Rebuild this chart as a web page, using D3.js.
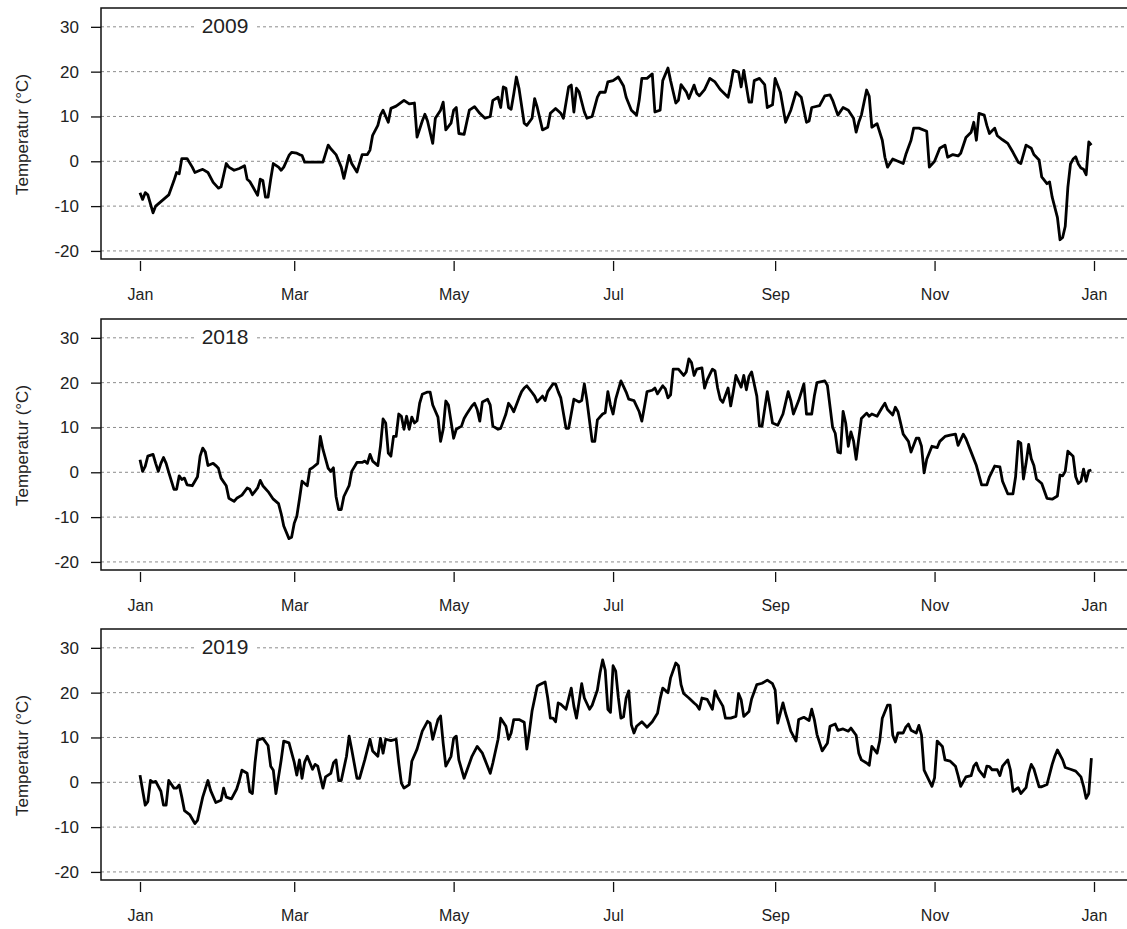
<!DOCTYPE html>
<html>
<head>
<meta charset="utf-8">
<script src="https://cdn.jsdelivr.net/npm/d3@7"></script>
<style>
  body { margin: 0; background: #fff; }
  svg { display: block; }
</style>
</head>
<body>
<svg id="chart" width="1127" height="929"></svg>
<script>
// Daily air temperature, one panel per year: [day of year (0 = 1 Jan), °C]
const years = [2009, 2018, 2019];

const series2009 = [[0,-7],[1,-8.5],[2,-7],[3,-7.5],[5,-11.5],[6,-10],[8,-9],[10,-8],[11,-7.5],[13,-4.3],[14,-2.5],[15,-2.8],[16,0.6],[18,0.6],[20,-1.3],[21,-2.5],[23,-2],[24,-1.8],[26,-2.5],[28,-4.7],[30,-6],[31,-5.7],[33,-0.5],[34,-1.3],[36,-2],[38,-1.6],[40,-1],[41,-4],[42,-4.5],[43,-5.5],[45,-7.6],[46,-4],[47,-4.3],[48,-8],[49,-8],[50,-4],[51,-0.5],[53,-1.3],[54,-2],[55,-1.3],[57,1.3],[58,2],[60,1.8],[61,1.5],[62,1.3],[63,-0.2],[65,-0.2],[70,-0.2],[72,3.6],[73,2.8],[75,1.5],[77,-1.3],[78,-3.8],[79,-1.3],[80,1.3],[81,-0.5],[83,-2.4],[85,1.5],[87,1.5],[88,2.5],[89,5.8],[91,8],[92,10.3],[93,11.4],[95,8.7],[96,11.8],[98,12.3],[101,13.6],[103,12.8],[105,13],[106,5.4],[108,9],[109,10.5],[110,9],[112,4],[113,9.6],[115,11.4],[116,13.2],[117,7],[119,8.5],[120,11.4],[121,12],[122,6.2],[124,6],[126,11.4],[128,12.2],[130,10.7],[132,9.6],[134,10],[135,13.6],[137,14.3],[138,12],[139,16.6],[140,16.3],[141,12],[142,11.6],[143,15],[144,18.8],[145,16.3],[147,8.5],[148,8],[150,9.6],[151,14],[152,12],[154,7],[156,7.6],[157,10.7],[159,11.8],[161,10.7],[162,9.6],[164,16.6],[165,17],[166,11],[167,16.3],[168,15.5],[170,11],[171,9.6],[173,10],[175,14.3],[176,15.4],[178,15.4],[179,17.7],[181,18],[183,18.8],[185,16.8],[186,14.3],[188,11.4],[190,10.3],[191,13.6],[192,18.5],[194,18.5],[196,19.5],[197,11],[199,11.4],[200,18],[202,20.8],[203,18],[205,13],[206,13.6],[207,17.1],[209,15.5],[210,14],[212,17],[213,15.2],[214,14.6],[216,16],[218,18.5],[220,17.7],[222,16],[225,14.3],[226,17],[227,20.3],[229,19.9],[230,16.6],[231,20.3],[233,13.2],[234,13.2],[235,18],[237,18.5],[239,17.1],[240,12],[242,12.6],[243,18.5],[245,15.4],[247,8.7],[249,11.4],[251,15.4],[253,14.3],[255,8.7],[256,9],[257,12],[260,12.4],[262,14.6],[264,14.8],[265,13.6],[267,10.3],[269,12],[271,11.4],[273,9.6],[274,6.5],[275,8.7],[276,10.3],[278,15.9],[279,14.5],[280,7.6],[282,8.4],[284,4.7],[285,0.9],[286,-1.3],[288,0.5],[290,0],[292,-0.5],[293,1.5],[295,4.7],[296,7.4],[298,7.4],[301,6.7],[302,-1.3],[304,0],[306,2.9],[308,3.6],[309,0.9],[311,1.5],[313,1.2],[314,1.8],[316,5.3],[318,6.5],[319,8.7],[320,4.7],[321,10.7],[323,10.3],[324,8],[325,6.2],[327,7.4],[328,5.7],[330,4.8],[332,4],[334,2],[336,-0.2],[337,-0.5],[339,3.6],[341,2.9],[342,1.5],[344,0.3],[345,-3.5],[347,-5],[348,-4.6],[349,-8],[351,-12.5],[352,-17.5],[353,-17],[354,-14.5],[355,-5.8],[356,-0.6],[357,0.5],[358,1],[359,-0.6],[360,-1.5],[361,-1.8],[362,-3],[363,4.3],[364,3.6]];

const series2018 = [[0,2.8],[1,0.2],[2,1.3],[3,3.6],[5,4],[6,2],[7,0.2],[8,2],[9,3.3],[10,2],[11,0],[13,-3.8],[14,-3.8],[15,-0.8],[16,-1.6],[17,-1.3],[18,-2.8],[20,-3],[22,-1],[23,3.6],[24,5.4],[25,4.5],[26,1.5],[28,2],[29,1.5],[30,0.9],[31,-1.3],[33,-3],[34,-5.8],[36,-6.5],[37,-5.8],[39,-5.1],[41,-3.5],[42,-3.8],[43,-5],[45,-3.5],[46,-1.8],[47,-3],[49,-4.3],[51,-6],[53,-7],[54,-9.2],[55,-12],[57,-14.8],[58,-14.5],[59,-11.4],[60,-9.8],[61,-6],[62,-2],[64,-3],[65,0.7],[66,1],[68,2],[69,8],[70,5.1],[72,0.9],[73,0.2],[74,1],[75,-5.4],[76,-8.3],[77,-8.3],[78,-5.4],[80,-3],[81,0.2],[83,2.2],[85,2.2],[86,2.5],[87,2],[88,4],[89,2.5],[91,1.5],[92,5.8],[93,11.9],[94,11],[95,4.3],[96,3.6],[97,8],[98,8],[99,13],[100,12.5],[101,9.6],[102,12.5],[103,9.6],[104,12.3],[105,11],[106,11.5],[107,15.4],[108,17.4],[110,17.9],[111,17.9],[112,15],[114,12.3],[115,6.9],[116,9.6],[117,15.9],[118,15],[120,7.6],[121,9.6],[123,10.3],[124,12],[125,13],[127,14.8],[128,15.4],[129,14],[130,11.4],[131,15.7],[133,16.3],[134,15],[135,10.3],[137,9.6],[138,9.8],[140,13],[141,15.4],[142,14.6],[143,13.5],[145,16.6],[146,18],[147,18.8],[148,19.3],[150,17.8],[151,17],[152,15.7],[154,17],[155,16],[156,18],[158,19.7],[159,19.7],[160,18],[161,16.6],[163,9.8],[164,9.8],[166,16.3],[168,15.7],[169,16],[170,19.7],[171,16],[173,6.9],[174,6.9],[175,11.7],[177,13],[178,13.3],[179,18],[180,15],[181,13],[182,16.3],[184,20.4],[186,17.9],[187,16.3],[189,16],[191,13.5],[192,11.4],[193,14.6],[194,18],[196,18.3],[197,18.8],[198,17.5],[200,19.3],[201,18.6],[202,16.6],[203,17.3],[204,23],[206,23],[208,21.6],[209,22.4],[210,25.3],[211,24.5],[212,21.6],[213,23],[215,23.3],[216,18.8],[217,20.6],[219,23],[220,22.6],[221,18.8],[222,16.3],[223,15.6],[225,18.8],[226,14.8],[227,18],[228,21.6],[230,19],[231,21.6],[232,18.4],[233,21.4],[234,22.4],[236,17],[237,10.3],[238,10.3],[240,18],[241,14.6],[242,11],[244,10.5],[246,13],[248,18],[249,16],[250,13],[252,16],[254,19.7],[255,13],[257,13],[258,17],[259,20],[262,20.4],[263,19.4],[265,10],[266,8.7],[267,4.5],[268,4.3],[269,13.6],[270,11],[271,5.8],[272,9],[273,7],[274,2.9],[275,7.5],[276,12],[278,13.2],[279,12.5],[280,13],[282,12.5],[284,14.5],[285,15.4],[286,14],[288,12.8],[289,14.5],[290,13.5],[292,8.5],[294,6.9],[295,4.5],[297,7.6],[298,7.6],[299,5.8],[300,-0.1],[301,2.9],[303,5.8],[305,5.5],[306,6.9],[308,8],[310,8.3],[312,8.5],[313,6],[315,8.5],[316,7.5],[318,4.5],[320,1.5],[322,-2.8],[324,-2.8],[325,-1],[327,1.4],[329,1.2],[330,-2],[332,-4.8],[334,-4.8],[335,-1],[336,6.9],[337,6.5],[338,-1.5],[339,2],[340,6.2],[341,3],[342,1.5],[343,-1.5],[345,-2.5],[347,-5.8],[349,-6],[351,-5.3],[352,-0.6],[353,-0.8],[354,0.2],[355,4.7],[357,3.6],[358,-1],[359,-2.5],[360,-2],[361,0.7],[362,-2],[363,0.3],[364,0.5]];

const series2019 = [[0,1.6],[1,-1.8],[2,-5.1],[3,-4.3],[4,0.4],[5,0],[6,0.2],[8,-2],[9,-5.1],[10,-5.1],[11,0.4],[13,-1.3],[14,-1.3],[15,-0.6],[16,-3.3],[17,-6.3],[19,-7.2],[21,-9.2],[22,-8.5],[24,-3.3],[26,0.4],[27,-1.8],[29,-4.5],[31,-4],[32,-1.3],[33,-3.3],[35,-3.7],[37,-1.5],[38,0.4],[39,2.7],[41,2],[42,-2.1],[43,-2.5],[44,4.3],[45,9.4],[47,9.8],[49,8.2],[50,3.6],[51,2.7],[52,-2.5],[54,4.9],[55,9.2],[57,8.8],[59,4.5],[60,1.6],[61,5],[62,0.9],[63,4.5],[64,5.8],[66,2.9],[67,4],[68,3.6],[70,-1.3],[71,1.2],[73,2],[74,4.3],[75,5],[76,0.4],[77,0.4],[79,5.8],[80,10.3],[81,7.3],[83,0.9],[84,0.9],[86,5],[88,9.6],[89,7],[91,5.8],[92,9.8],[93,6.5],[94,9.6],[96,9.3],[98,9.6],[99,4.3],[100,-0.2],[101,-1.3],[103,-0.5],[104,4.7],[106,7.4],[108,11.4],[110,13.6],[111,13.2],[112,9.6],[114,14],[115,14.8],[116,8.7],[117,3.6],[119,5.8],[120,9.8],[121,10.3],[122,5],[124,0.9],[125,2.5],[127,5.8],[129,8],[131,6.5],[132,5],[134,2],[135,4.3],[137,9.6],[138,14.3],[140,12.5],[141,9.6],[142,11],[143,14],[145,14],[147,13.4],[148,7.4],[149,11.4],[150,15.9],[152,21.5],[153,21.8],[155,22.4],[156,18.8],[157,14.3],[158,14.3],[159,13.5],[160,17.7],[161,17.4],[163,16.3],[165,21],[166,17],[167,14.3],[168,18],[169,22],[170,18.8],[172,16.3],[173,17.2],[175,20.6],[176,24.4],[177,27.3],[178,25],[179,16.3],[180,15.6],[181,26],[182,24.8],[183,19],[184,14.3],[185,14.6],[186,18.8],[187,20.4],[188,12.8],[189,11],[190,12.5],[192,13.5],[194,12.3],[196,13.5],[198,15.4],[199,18.6],[200,21],[202,20],[203,23.3],[205,26.6],[206,26],[207,21.8],[208,19.8],[210,18.8],[212,17.7],[213,17.2],[214,16.3],[215,18.8],[217,18.5],[219,16.3],[220,20.4],[221,19],[223,17],[224,14.3],[226,14.3],[228,14.7],[229,19.8],[230,18.4],[231,14.7],[233,15.8],[234,18.6],[236,21.8],[238,22.1],[240,22.8],[242,22],[243,20.6],[244,13.2],[246,17.7],[247,15.4],[248,13.5],[249,11.4],[251,9.2],[252,14],[254,14.5],[256,13.8],[257,16.3],[258,14],[259,10.7],[261,7],[263,8.7],[264,12.5],[266,13],[267,11.6],[269,11.9],[271,11.4],[272,12.1],[274,10.5],[275,6.5],[276,5],[278,4.3],[279,3.8],[280,8],[282,6.5],[283,9.2],[284,14.3],[286,17.2],[287,17.2],[288,10.5],[289,9],[290,11],[292,11],[293,12.3],[294,13],[295,11.6],[297,11],[298,12.7],[299,10.5],[300,2.7],[301,1.5],[303,-0.9],[304,1],[305,9.2],[307,8],[308,5],[310,4.7],[312,3.6],[313,1.5],[314,-0.9],[316,1.2],[318,1.5],[319,3.6],[320,4.3],[321,2.7],[323,1.2],[324,3.6],[325,3.5],[326,2.8],[328,2.8],[329,1.5],[330,3.6],[332,5],[333,2.8],[334,-2],[336,-1.2],[337,-2.5],[339,-1.2],[340,2],[341,4],[342,3],[344,-1],[345,-1],[347,-0.5],[349,4],[350,5.8],[351,7.2],[353,5],[354,3.3],[356,2.9],[358,2.5],[360,1.2],[361,-0.9],[362,-3.6],[363,-2.5],[364,5.4]];

const seriesByYear = [series2009, series2018, series2019];
const yTicks = [-20, -10, 0, 10, 20, 30];
const yTitle = "Temperatur (\u00B0C)";

const W = 1127;
const font = "'Liberation Sans', Arial, sans-serif";
const textColor = "#222";
const panelTops = [8, 319, 629];
const panelH = 251;
const plotLeft = 101;
const plotRight = 1140;   // frame continues past the right edge of the page

const svg = d3.select("#chart");

years.forEach((yr, i) => {
  const data = seriesByYear[i];
  const g = svg.append("g").attr("transform", `translate(0,${panelTops[i]})`);

  const x = d3.scaleTime()
    .domain([new Date(yr, 0, 1), new Date(yr + 1, 0, 1)])
    .range([140, 1094]);
  const y = d3.scaleLinear()
    .domain([-21.8, 34.2])
    .range([panelH, 0]);

  // dashed horizontal reference lines
  g.append("g").selectAll("line")
    .data(yTicks)
    .join("line")
      .attr("x1", plotLeft).attr("x2", W)
      .attr("y1", d => y(d)).attr("y2", d => y(d))
      .attr("stroke", "#8c8c8c")
      .attr("stroke-width", 1)
      .attr("stroke-dasharray", "3,3");

  // year label on a white patch
  g.append("rect")
    .attr("x", 196).attr("y", 10)
    .attr("width", 59).attr("height", 22)
    .attr("fill", "#fff");
  g.append("text")
    .attr("x", 225).attr("y", 25)
    .attr("text-anchor", "middle")
    .attr("font-family", font)
    .attr("font-size", 21)
    .attr("fill", textColor)
    .text(yr);

  // temperature trace
  const line = d3.line()
    .x(d => x(new Date(yr, 0, 1 + d[0])))
    .y(d => y(d[1]));
  g.append("path")
    .datum(data)
    .attr("d", line)
    .attr("fill", "none")
    .attr("stroke", "#000")
    .attr("stroke-width", 2.8)
    .attr("stroke-linejoin", "round");

  // plot frame
  g.append("rect")
    .attr("x", plotLeft).attr("y", 0)
    .attr("width", plotRight - plotLeft).attr("height", panelH)
    .attr("fill", "none")
    .attr("stroke", "#111")
    .attr("stroke-width", 1.5);

  // y axis (plain hyphen for negative labels)
  const yAxis = g.append("g")
    .attr("transform", `translate(${plotLeft},0)`)
    .call(d3.axisLeft(y).tickValues(yTicks).tickFormat(d => String(d))
      .tickSize(10).tickPadding(12));
  yAxis.select(".domain").remove();
  yAxis.selectAll(".tick line").attr("stroke", "#111").attr("stroke-width", 1.3);
  yAxis.selectAll(".tick text")
    .attr("font-family", font).attr("font-size", 17).attr("fill", textColor);

  // x axis: every second month
  const xAxis = g.append("g")
    .attr("transform", `translate(0,${panelH + 2})`)
    .call(d3.axisBottom(x)
      .ticks(d3.timeMonth.every(2))
      .tickFormat(d3.timeFormat("%b"))
      .tickSize(10).tickPadding(18));
  xAxis.select(".domain").remove();
  xAxis.selectAll(".tick line").attr("stroke", "#111").attr("stroke-width", 1.3);
  xAxis.selectAll(".tick text")
    .attr("font-family", font).attr("font-size", 16).attr("fill", textColor);

  // y axis title
  g.append("text")
    .attr("transform", `translate(22,${panelH / 2 + 1}) rotate(-90)`)
    .attr("text-anchor", "middle")
    .attr("dominant-baseline", "central")
    .attr("font-family", font)
    .attr("font-size", 17)
    .attr("fill", textColor)
    .text(yTitle);
});
</script>
</body>
</html>
